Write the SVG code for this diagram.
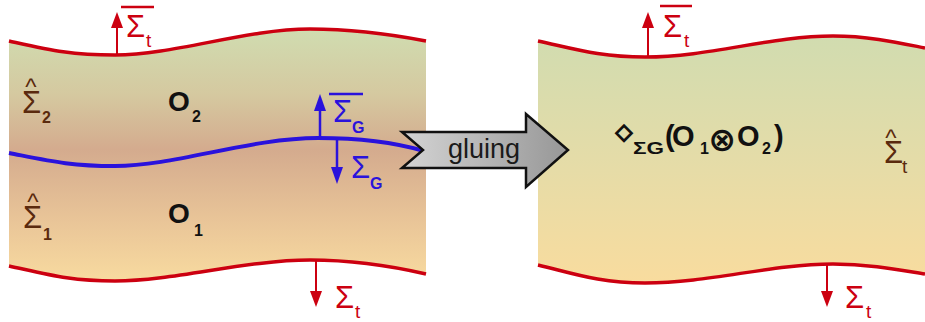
<svg xmlns="http://www.w3.org/2000/svg" width="925" height="322" viewBox="0 0 925 322">
<style>
.red{fill:none;stroke:#cc0010;stroke-width:3.5}
.blue{fill:none;stroke:#2a12dc;stroke-width:4}
.ra{stroke:#cc0010;stroke-width:2}
.ba{stroke:#2a12dc;stroke-width:2.5}
.sig{font-family:"Liberation Sans",Arial,sans-serif;font-size:31px}
.sub{font-family:"Liberation Sans",Arial,sans-serif;font-size:19px}
.bsub{font-family:"Liberation Sans",Arial,sans-serif;font-size:16px;font-weight:bold}
.tr{fill:#cc0010}
.tb{fill:#2a12dc}
.tbr{fill:#5a2a0e}
.big{font-family:"Liberation Sans",Arial,sans-serif;font-size:28px;font-weight:bold;fill:#111}
.big2{font-family:"Liberation Sans",Arial,sans-serif;font-size:29px;font-weight:bold;fill:#111}
.hat{font-family:"Liberation Sans",Arial,sans-serif;font-size:24px;text-anchor:middle}
</style>
<defs>
<linearGradient id="gl" x1="0" y1="30" x2="0" y2="285" gradientUnits="userSpaceOnUse">
<stop offset="0" stop-color="#d0dcb0"/>
<stop offset="0.25" stop-color="#d5c9a0"/>
<stop offset="0.47" stop-color="#d4ab8e"/>
<stop offset="0.75" stop-color="#e9c598"/>
<stop offset="1" stop-color="#f9dca0"/>
</linearGradient>
<linearGradient id="gr" x1="0" y1="30" x2="0" y2="285" gradientUnits="userSpaceOnUse">
<stop offset="0" stop-color="#d0dcb0"/>
<stop offset="0.5" stop-color="#e4dca8"/>
<stop offset="1" stop-color="#f9dc9e"/>
</linearGradient>
<linearGradient id="ga" x1="402" y1="0" x2="568" y2="0" gradientUnits="userSpaceOnUse">
<stop offset="0" stop-color="#d4d4d4"/>
<stop offset="1" stop-color="#979797"/>
</linearGradient>
<marker id="mr" viewBox="0 0 16 12" refX="8" refY="6" markerWidth="16" markerHeight="12" markerUnits="userSpaceOnUse" orient="auto">
<path d="M0,0 L16,6 L0,12 z" fill="#cc0010"/>
</marker>
<marker id="mb" viewBox="0 0 17 12" refX="9" refY="6" markerWidth="17" markerHeight="12" markerUnits="userSpaceOnUse" orient="auto">
<path d="M0,0 L17,6 L0,12 z" fill="#2a12dc"/>
</marker>
</defs>

<g id="left-panel">
<path d="M9,41 C50,50 70,55 115,55 C175,55 245,29 310,29 C360,29 400,36 426,41 L426,274 C400,268 360,260 310,260 C245,260 175,281 115,281 C70,281 50,275 9,266 Z" fill="url(#gl)"/>
<path class="red" d="M9,41 C50,50 70,55 115,55 C175,55 245,29 310,29 C360,29 400,36 426,41"/>
<path class="red" d="M9,266 C50,275 70,281 115,281 C175,281 245,260 310,260 C360,260 400,268 426,274"/>
<path class="blue" d="M9,153 C50,161 70,166 115,166 C175,166 250,138 318,138 C365,138 400,144 424,151"/>
<text class="hat tbr" x="31" y="95">^</text>
<text class="sig tbr" x="22" y="113">Σ</text>
<text class="bsub tbr" x="42" y="123">2</text>
<text class="hat tbr" x="33" y="210">^</text>
<text class="sig tbr" x="23" y="228">Σ</text>
<text class="bsub tbr" x="43" y="240">1</text>
<text class="big" x="168" y="111">O</text>
<text class="bsub" x="192" y="122" fill="#111">2</text>
<text class="big" x="168" y="223">O</text>
<text class="bsub" x="194" y="236" fill="#111">1</text>
</g>

<g id="right-panel">
<path d="M538,41 C575,49 600,57 645,57 C710,57 770,36 833,36 C870,36 900,43 925,48 L925,274 C900,270 870,264 833,264 C770,264 710,283 645,283 C600,283 575,274 538,265 Z" fill="url(#gr)"/>
<path class="red" d="M538,41 C575,49 600,57 645,57 C710,57 770,36 833,36 C870,36 900,43 925,48"/>
<path class="red" d="M538,265 C575,274 600,283 645,283 C710,283 770,264 833,264 C870,264 900,270 925,274"/>
<text x="624" y="139" text-anchor="middle" font-family="DejaVu Sans" font-weight="bold" font-size="22" fill="#111" stroke="#111" stroke-width="1.4">◇</text>
<text x="633" y="154" font-family="Liberation Sans,Arial,sans-serif" font-weight="bold" font-size="16" fill="#111" textLength="31" lengthAdjust="spacingAndGlyphs">ΣG</text>
<text class="big2" x="665" y="146">(</text>
<text class="big2" x="672" y="146">O</text>
<text class="bsub" x="700" y="154" fill="#111">1</text>
<text x="722" y="151" text-anchor="middle" font-family="DejaVu Sans" font-weight="bold" font-size="33" fill="#111">⊗</text>
<text class="big2" x="737" y="146">O</text>
<text class="bsub" x="762" y="154" fill="#111">2</text>
<text class="big2" x="774" y="146">)</text>
<text class="hat tbr" x="891" y="146">^</text>
<text class="sig tbr" x="884" y="163">Σ</text>
<text class="sub tbr" x="902" y="173">t</text>
</g>

<g id="connectors">
<line class="ra" x1="117" y1="54" x2="117" y2="20" marker-end="url(#mr)"/>
<line class="ra" x1="316" y1="261" x2="316" y2="299" marker-end="url(#mr)"/>
<line class="ba" x1="320" y1="138" x2="320" y2="102" marker-end="url(#mb)"/>
<line class="ba" x1="337" y1="139" x2="337" y2="176" marker-end="url(#mb)"/>
<line class="ra" x1="648" y1="56" x2="648" y2="20" marker-end="url(#mr)"/>
<line class="ra" x1="827" y1="264" x2="827" y2="299" marker-end="url(#mr)"/>
</g>

<g id="labels">
<line x1="121" y1="7" x2="154" y2="7" stroke="#cc0010" stroke-width="2.5"/>
<text class="sig tr" x="126" y="37">Σ</text>
<text class="sub tr" x="146" y="47">t</text>
<text class="sig tr" x="335" y="308">Σ</text>
<text class="sub tr" x="355" y="318">t</text>
<line x1="329" y1="94" x2="363" y2="94" stroke="#2a12dc" stroke-width="2.5"/>
<text class="sig tb" x="333" y="122">Σ</text>
<text class="bsub tb" x="352" y="133">G</text>
<text class="sig tb" x="351" y="178">Σ</text>
<text class="bsub tb" x="370" y="189">G</text>
<line x1="660" y1="6" x2="692" y2="6" stroke="#cc0010" stroke-width="2.5"/>
<text class="sig tr" x="663" y="37">Σ</text>
<text class="sub tr" x="684" y="47">t</text>
<text class="sig tr" x="845" y="308">Σ</text>
<text class="sub tr" x="866" y="318">t</text>
</g>

<g id="gluing">
<polygon points="402,132 526,132 526,114 568,150 526,187 526,168 402,168 423,150" fill="url(#ga)" stroke="#111" stroke-width="2.5" stroke-linejoin="miter"/>
<text x="448" y="158" font-family="Liberation Sans,Arial,sans-serif" font-size="27" fill="#1a1a1a">gluing</text>
</g>
</svg>
